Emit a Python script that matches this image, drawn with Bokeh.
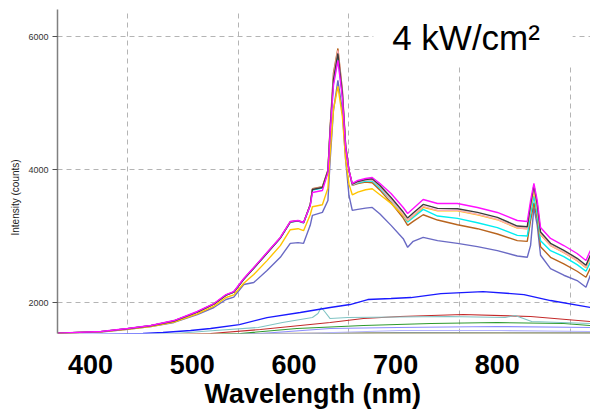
from bokeh.plotting import figure
from bokeh.models import Range1d, LinearAxis, FixedTicker, BoxAnnotation, Label, Title
from bokeh.embed import file_html
from bokeh.resources import INLINE

# ---------------- data ----------------
upper_wl = [337, 376, 400, 421, 442, 463, 478, 489, 496, 505, 514, 526, 538, 547, 554, 559,
            565, 567, 576, 581, 583, 586, 590, 594, 597, 600, 603, 608, 615, 621, 628, 638,
            649, 653, 658, 667, 680, 698, 716, 734, 752, 761, 764, 767, 770, 773, 782, 794,
            806, 814, 818]

magenta = [1540, 1564, 1609, 1654, 1729, 1865, 1985, 2120, 2165, 2361, 2526, 2752, 2978, 3218, 3233, 3203,
           3459, 3654, 3684, 3955, 4557, 5264, 5640, 5083, 4331, 3985, 3790, 3835, 3865, 3880, 3790, 3639,
           3429, 3339, 3414, 3549, 3489, 3489, 3429, 3354, 3233, 3218, 3534, 3790, 3534, 3128, 2963, 2857,
           2737, 2632, 2782]
black = [1540, 1562, 1605, 1650, 1722, 1855, 1975, 2110, 2155, 2350, 2515, 2740, 2968, 3210, 3228, 3200,
         3470, 3700, 3730, 3980, 4600, 5350, 5745, 5150, 4350, 3990, 3780, 3820, 3850, 3860, 3760, 3580,
         3360, 3270, 3345, 3475, 3415, 3410, 3355, 3280, 3150, 3140, 3470, 3760, 3480, 3060, 2890, 2785,
         2665, 2560, 2715]
pink = [1540, 1562, 1606, 1652, 1725, 1860, 1980, 2115, 2160, 2355, 2520, 2745, 2970, 3212, 3228, 3198,
        3462, 3705, 3735, 3985, 4620, 5400, 5790, 5180, 4360, 3985, 3770, 3810, 3840, 3845, 3740, 3545,
        3325, 3235, 3310, 3445, 3385, 3385, 3325, 3250, 3125, 3110, 3440, 3730, 3440, 3030, 2860, 2755,
        2635, 2530, 2680]
brown = [1540, 1562, 1605, 1650, 1722, 1855, 1978, 2112, 2158, 2355, 2520, 2748, 2975, 3215, 3230, 3200,
         3470, 3710, 3740, 3990, 4640, 5450, 5820, 5200, 4370, 3980, 3760, 3790, 3810, 3800, 3690, 3500,
         3270, 3160, 3220, 3320, 3240, 3170, 3110, 3030, 2930, 2920, 3230, 3500, 3260, 2840, 2680, 2580,
         2470, 2380, 2520]
cyan = [1540, 1562, 1606, 1651, 1724, 1858, 1978, 2112, 2158, 2352, 2518, 2744, 2970, 3210, 3226, 3196,
        3455, 3690, 3720, 3960, 4580, 5300, 5680, 5120, 4340, 3975, 3770, 3800, 3825, 3830, 3720, 3540,
        3310, 3210, 3280, 3400, 3300, 3265, 3200, 3125, 3010, 3000, 3320, 3600, 3330, 2930, 2780, 2690,
        2570, 2470, 2610]
yellow = [1538, 1558, 1598, 1640, 1705, 1830, 1945, 2075, 2115, 2290, 2420, 2630, 2855, 3095, 3110, 3080,
          3320, 3440, 3470, 3720, 4250, 4900, 5250, 4800, 4150, 3780, 3620, 3660, 3695, 3710, 3620, 3490,
          3310, 3230, 3300, 3430, 3380, 3380, 3320, 3245, 3120, 3110, 3420, 3680, 3420, 3020, 2855, 2750,
          2630, 2525, 2665]
violet = [1535, 1555, 1598, 1640, 1700, 1820, 1925, 2045, 2080, 2270, 2300, 2480, 2680, 2890, 2900, 2890,
          3160, 3310, 3355, 3535, 4140, 4890, 5340, 4890, 4140, 3610, 3385, 3400, 3420, 3430, 3330, 3160,
          2960, 2830, 2920, 2980, 2930, 2890, 2840, 2780, 2700, 2680, 2860, 3430, 3160, 2710, 2510, 2410,
          2330, 2230, 2410]

blue_wl = [337, 414, 432, 457, 475, 501, 526, 556, 583, 601, 617, 638, 656, 683, 721, 758, 782, 818]
blue = [1515, 1534, 1549, 1579, 1609, 1669, 1774, 1850, 1925, 1970, 2045, 2060, 2075, 2135, 2165, 2120, 2030, 1925]

teal_wl = [337, 443, 479, 518, 540, 567, 572, 575, 578, 583, 599, 689, 741, 750, 765, 818]
teal = [1500, 1534, 1579, 1624, 1699, 1774, 1835, 1925, 1865, 1759, 1774, 1789, 1774, 1804, 1714, 1684]

red_wl = [337, 475, 520, 556, 583, 613, 646, 703, 764, 818]
red = [1480, 1534, 1594, 1654, 1699, 1759, 1789, 1820, 1789, 1714]

green_wl = [337, 502, 553, 613, 674, 734, 794, 818]
green = [1470, 1534, 1609, 1654, 1684, 1699, 1684, 1654]

lavender_wl = [337, 520, 583, 644, 734, 818]
lavender = [1450, 1534, 1609, 1624, 1639, 1624]

periwinkle_wl = [337, 556, 646, 737, 818]
periwinkle = [1450, 1534, 1579, 1579, 1564]

steel_wl = [337, 556, 646, 818]
steel = [1500, 1530, 1545, 1540]

khaki_wl = [337, 600, 700, 818]
khaki = [1500, 1537, 1538, 1537]

x_ticks = [400, 500, 600, 700, 800]
y_ticks = [2000, 4000, 6000]
label_ticks = [400, 500, 600, 700, 800]

# ---------------- figure ----------------
p = figure(width=590, height=412, output_backend="svg", toolbar_location=None,
           x_range=Range1d(336.8, 818.1), y_range=Range1d(1534, 6406),
           min_border_left=57, min_border_right=0, min_border_top=9, min_border_bottom=79)
p.outline_line_color = None
p.background_fill_color = "white"
p.border_fill_color = "white"

p.xaxis.visible = False
p.xgrid.ticker = FixedTicker(ticks=x_ticks)
p.ygrid.ticker = FixedTicker(ticks=y_ticks)
for g in (p.xgrid, p.ygrid):
    g.grid_line_color = "#b4b4b4"
    g.grid_line_dash = "5 4"
    g.grid_line_width = 1

ya = p.yaxis[0]
ya.ticker = FixedTicker(ticks=y_ticks)
ya.axis_line_color = "#808080"
ya.axis_line_width = 1.5
ya.major_tick_line_color = "#505050"
ya.major_tick_out = 5
ya.major_tick_in = 0
ya.minor_tick_line_color = None
ya.major_label_text_font = "Liberation Sans"
ya.major_label_text_font_size = "9px"
ya.major_label_text_color = "#333333"
ya.major_label_standoff = 4

p.add_layout(Title(text="Intensity (counts)", align="left", offset=98, standoff=9,
                   text_font="Liberation Sans", text_font_size="10px",
                   text_font_style="normal", text_color="#222222"), "left")

p.extra_x_ranges = {"lab": Range1d(367.55, 891.6)}
lab_axis = LinearAxis(x_range_name="lab", ticker=FixedTicker(ticks=label_ticks),
                      axis_line_color=None, major_tick_line_color=None,
                      minor_tick_line_color=None,
                      major_label_text_font="Liberation Sans",
                      major_label_text_font_size="27px",
                      major_label_text_font_style="bold",
                      major_label_text_color="black",
                      major_label_standoff=15)
p.add_layout(lab_axis, "below")

p.add_layout(Title(text="Wavelength (nm)", align="left", offset=147, standoff=0,
                   text_font="Liberation Sans", text_font_size="27px",
                   text_font_style="bold", text_color="black"), "below")

# lower group
lw = 1.1
p.line(khaki_wl, khaki, line_color="#c8b464", line_width=2)
p.line(steel_wl, steel, line_color="#6f8797", line_width=lw)
p.line(periwinkle_wl, periwinkle, line_color="#b4b4ff", line_width=lw)
p.line(lavender_wl, lavender, line_color="#8c8cff", line_width=lw)
p.line(green_wl, green, line_color="#2e9a2e", line_width=lw)
p.line(red_wl, red, line_color="#c42a2a", line_width=lw)
p.line(teal_wl, teal, line_color="#80c4c4", line_width=lw)
p.line(blue_wl, blue, line_color="#1a1aff", line_width=1.3)

# upper group
uw = 1.4
p.line(upper_wl, violet, line_color="#6a6ac4", line_width=uw)
p.line(upper_wl, brown, line_color="#b8641e", line_width=uw)
p.line(upper_wl, cyan, line_color="#00eef2", line_width=uw)
p.line(upper_wl, yellow, line_color="#ffc400", line_width=uw)
p.line(upper_wl, pink, line_color="#ffaab4", line_width=uw)
p.line(upper_wl, black, line_color="#3c3c3c", line_width=uw)
p.line(upper_wl, magenta, line_color="#ff10ff", line_width=uw)

box = BoxAnnotation(left=622, right=802, bottom=5550, top=6406,
                    fill_color="white", fill_alpha=1.0, line_color=None)
p.add_layout(box)

p.add_layout(Label(x=639, y=5985, text="4 kW/cm²", text_font="Liberation Sans",
                   text_font_size="35px", text_color="black", text_baseline="alphabetic"))

open("out.html", "w").write(file_html(p, INLINE))
